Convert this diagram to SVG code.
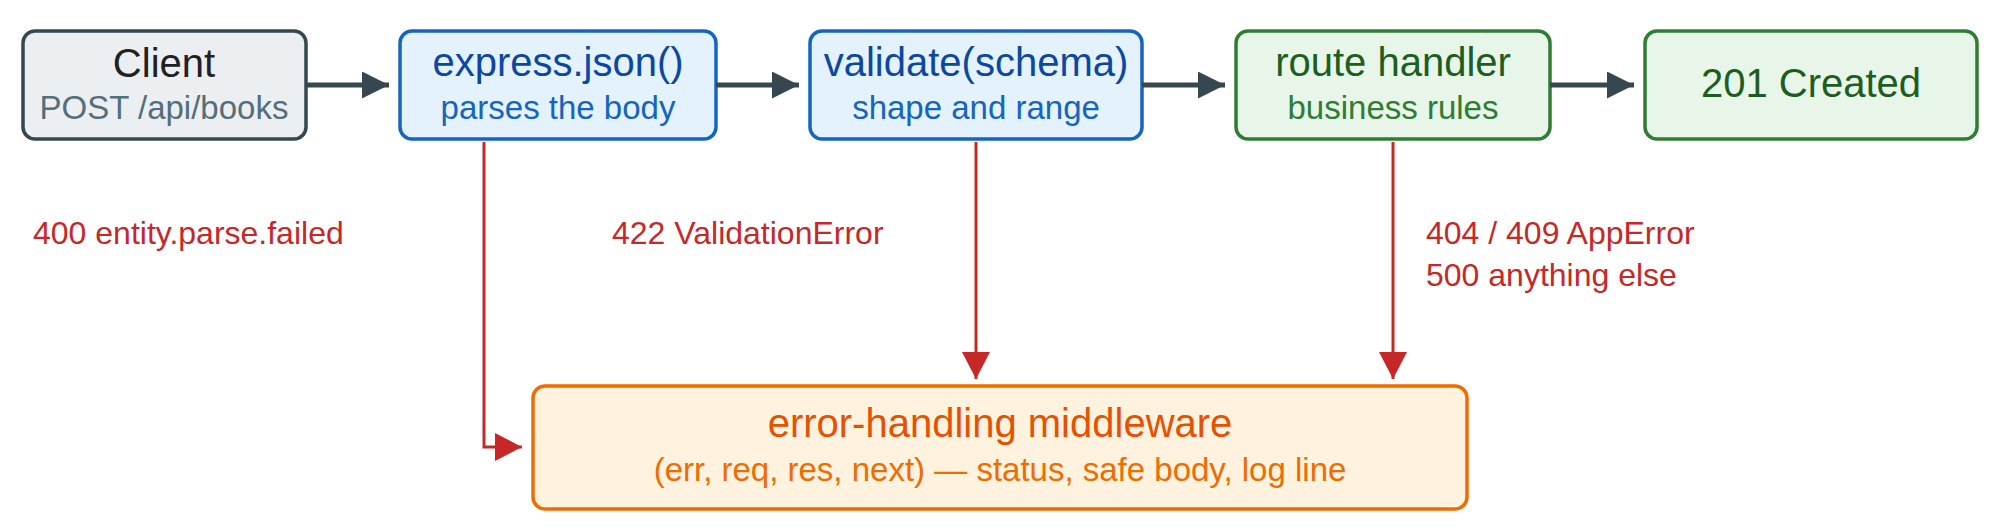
<svg xmlns="http://www.w3.org/2000/svg" width="2000" height="532" viewBox="0 0 2000 532">
<style>
text{font-family:"Liberation Sans",Arial,sans-serif;text-anchor:middle}
.t{font-size:40px}.s{font-size:33px}
.l{font-size:32px;fill:#c62828;text-anchor:start}
rect{stroke-width:3.5}
.g{fill:none;stroke:#37474f;stroke-width:5}
.r{fill:none;stroke:#c62828;stroke-width:3}
</style>
<defs>
<marker id="ag" markerWidth="27" markerHeight="27" refX="27" refY="13.5" markerUnits="userSpaceOnUse" orient="auto"><path d="M0,0L27,13.5L0,27Z" fill="#37474f"/></marker>
<marker id="ar" markerWidth="27" markerHeight="28" refX="27" refY="14" markerUnits="userSpaceOnUse" orient="auto"><path d="M0,0L27,14L0,28Z" fill="#c62828"/></marker>
</defs>
<g id="client"><rect x="23" y="31" width="283" height="108" rx="12" fill="#eceff1" stroke="#37474f"/><text x="164" y="77" class="t" fill="#212121">Client</text><text x="164" y="119" class="s" fill="#546e7a">POST /api/books</text></g>
<g id="express"><rect x="400" y="31" width="316" height="108" rx="12" fill="#e3f2fd" stroke="#1565c0"/><text x="558" y="76" class="t" fill="#0d47a1">express.json()</text><text x="558" y="119" class="s" fill="#1565c0">parses the body</text></g>
<g id="validate"><rect x="810" y="31" width="332" height="108" rx="12" fill="#e3f2fd" stroke="#1565c0"/><text x="976" y="76" class="t" fill="#0d47a1">validate(schema)</text><text x="976" y="119" class="s" fill="#1565c0">shape and range</text></g>
<g id="route"><rect x="1236" y="31" width="314" height="108" rx="12" fill="#e8f5e9" stroke="#2e7d32"/><text x="1393" y="76" class="t" fill="#1b5e20">route handler</text><text x="1393" y="119" class="s" fill="#2e7d32">business rules</text></g>
<g id="created"><rect x="1645" y="31" width="332" height="108" rx="12" fill="#e8f5e9" stroke="#2e7d32"/><text x="1811" y="97" class="t" fill="#1b5e20">201 Created</text></g>
<g id="errmw"><rect x="533" y="386" width="934" height="123" rx="12" fill="#fff3e0" stroke="#ef6c00"/><text x="1000" y="437" class="t" fill="#e65100">error-handling middleware</text><text x="1000" y="481" class="s" fill="#ef6c00">(err, req, res, next) — status, safe body, log line</text></g>
<g id="connectors">
<path class="g" d="M306,85H389" marker-end="url(#ag)"/>
<path class="g" d="M716,85H799" marker-end="url(#ag)"/>
<path class="g" d="M1142,85H1225" marker-end="url(#ag)"/>
<path class="g" d="M1550,85H1634" marker-end="url(#ag)"/>
<path class="r" d="M484,142V447H522" marker-end="url(#ar)"/>
<path class="r" d="M976,142V379" marker-end="url(#ar)"/>
<path class="r" d="M1393,142V379" marker-end="url(#ar)"/>
<text class="l" x="33" y="244">400 entity.parse.failed</text>
<text class="l" x="612" y="244">422 ValidationError</text>
<text class="l" x="1426" y="244">404 / 409 AppError</text>
<text class="l" x="1426" y="286">500 anything else</text>
</g>
</svg>
